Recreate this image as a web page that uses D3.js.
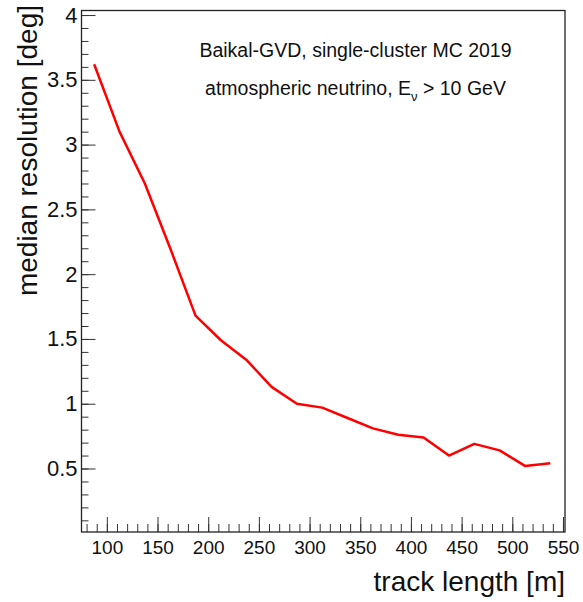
<!DOCTYPE html>
<html>
<head>
<meta charset="utf-8">
<script src="https://cdn.jsdelivr.net/npm/d3@7"></script>
<style>
  body { margin: 0; background: #fff; }
  text { font-family: "Liberation Sans", Arial, sans-serif; }
</style>
</head>
<body>
<div id="chart"></div>
<script>
// track length bin centres [m] and median resolution [deg]
const trackLength = [87.5, 112.5, 137.5, 162.5, 187.5, 212.5, 237.5, 262.5, 287.5, 312.5,
                     337.5, 362.5, 387.5, 412.5, 437.5, 462.5, 487.5, 512.5, 537.5];
const medianRes = [3.62, 3.10, 2.70, 2.20, 1.68, 1.49, 1.34, 1.13, 1.00, 0.97,
                   0.89, 0.81, 0.76, 0.74, 0.60, 0.69, 0.64, 0.52, 0.54];
const xTicks = [100, 150, 200, 250, 300, 350, 400, 450, 500, 550];
const yTicks = [0.5, 1, 1.5, 2, 2.5, 3, 3.5, 4];

const width = 583, height = 602;
const frame = { left: 81.5, right: 565, top: 10.5, bottom: 532 };

const svg = d3.select("#chart").append("svg")
    .attr("width", width)
    .attr("height", height);

const x = d3.scaleLinear().domain([75, 552]).range([frame.left, frame.right]);
const y = d3.scaleLinear().domain([0.01, 4.035]).range([frame.bottom, frame.top]);

// minor ticks first, then major with labels
const xMinor = d3.range(80, 551, 10);
const yMinor = d3.range(1, 41).map(d => d / 10);

svg.append("g")
    .attr("transform", `translate(0,${frame.bottom})`)
    .call(d3.axisBottom(x).tickValues(xMinor).tickSizeInner(-8).tickSizeOuter(0).tickFormat(""))
    .call(g => g.select(".domain").remove())
    .call(g => g.selectAll("line").attr("stroke", "#333"));

svg.append("g")
    .attr("transform", `translate(0,${frame.bottom})`)
    .call(d3.axisBottom(x).tickValues(xTicks).tickSizeInner(-15).tickSizeOuter(0).tickPadding(9))
    .call(g => g.select(".domain").remove())
    .call(g => g.selectAll("line").attr("stroke", "#333"))
    .call(g => g.selectAll("text").attr("font-size", 19).attr("fill", "#111")
        .attr("font-family", "Liberation Sans, Arial, sans-serif"));

svg.append("g")
    .attr("transform", `translate(${frame.left},0)`)
    .call(d3.axisLeft(y).tickValues(yMinor).tickSizeInner(-7).tickSizeOuter(0).tickFormat(""))
    .call(g => g.select(".domain").remove())
    .call(g => g.selectAll("line").attr("stroke", "#333"));

svg.append("g")
    .attr("transform", `translate(${frame.left},0)`)
    .call(d3.axisLeft(y).tickValues(yTicks).tickSizeInner(-14).tickSizeOuter(0).tickPadding(4)
        .tickFormat(d3.format("")))
    .call(g => g.select(".domain").remove())
    .call(g => g.selectAll("line").attr("stroke", "#333"))
    .call(g => g.selectAll("text").attr("font-size", 22).attr("fill", "#111")
        .attr("font-family", "Liberation Sans, Arial, sans-serif"));

// frame
svg.append("rect")
    .attr("x", frame.left).attr("y", frame.top)
    .attr("width", frame.right - frame.left).attr("height", frame.bottom - frame.top)
    .attr("fill", "none")
    .attr("stroke", "#222")
    .attr("stroke-width", 1.3);

// the curve
const line = d3.line()
    .x((d, i) => x(trackLength[i]))
    .y(d => y(d));

svg.append("path")
    .datum(medianRes)
    .attr("d", line)
    .attr("fill", "none")
    .attr("stroke", "#ff0000")
    .attr("stroke-width", 2.5)
    .attr("stroke-linejoin", "round");

// axis titles
svg.append("text")
    .attr("x", frame.right)
    .attr("y", 591)
    .attr("text-anchor", "end")
    .attr("font-size", 28)
    .attr("fill", "#111")
    .text("track length [m]");

svg.append("text")
    .attr("transform", `translate(37,5) rotate(-90)`)
    .attr("text-anchor", "end")
    .attr("font-size", 28)
    .attr("fill", "#111")
    .text("median resolution [deg]");

// annotation
svg.append("text")
    .attr("x", 355.5)
    .attr("y", 57)
    .attr("text-anchor", "middle")
    .attr("font-size", 19.5)
    .attr("fill", "#111")
    .text("Baikal-GVD, single-cluster MC 2019");

const note = svg.append("text")
    .attr("x", 355.5)
    .attr("y", 95)
    .attr("text-anchor", "middle")
    .attr("font-size", 19.5)
    .attr("fill", "#111");
note.append("tspan").text("atmospheric neutrino, E");
note.append("tspan").attr("font-size", 13).attr("dy", 6).text("ν");
note.append("tspan").attr("dy", -6).text(" > 10 GeV");
</script>
</body>
</html>
